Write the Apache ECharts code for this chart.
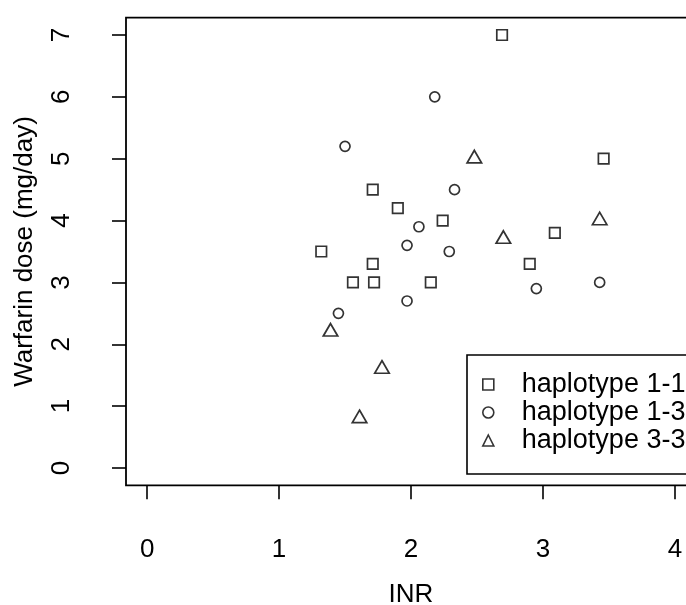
<!DOCTYPE html>
<html>
<head>
<meta charset="utf-8">
<script src="https://cdn.jsdelivr.net/npm/echarts@6/dist/echarts.min.js"></script>
<style>
  html, body { margin: 0; padding: 0; background: #fff; }
  #chart { width: 686px; height: 605px; }
</style>
</head>
<body>
<div id="chart"></div>
<script>
// ---- data ----
const seriesNames = ['haplotype 1-1', 'haplotype 1-3', 'haplotype 3-3'];
const hap11 = [[2.69, 7.0], [3.46, 5.0], [1.71, 4.5], [1.90, 4.2], [2.24, 4.0], [3.09, 3.8],
               [1.32, 3.5], [1.71, 3.3], [2.90, 3.3], [1.56, 3.0], [1.72, 3.0], [2.15, 3.0]];
const hap13 = [[2.18, 6.0], [1.50, 5.2], [2.33, 4.5], [2.06, 3.9], [1.97, 3.6], [2.29, 3.5],
               [2.95, 2.9], [3.43, 3.0], [1.97, 2.7], [1.45, 2.5]];
const hap33 = [[2.48, 5.0], [3.43, 4.0], [2.70, 3.7], [1.39, 2.2], [1.78, 1.6], [1.61, 0.8]];
const xTicks = [0, 1, 2, 3, 4];
const yTicks = [0, 1, 2, 3, 4, 5, 6, 7];
const xTitle = 'INR';
const yTitle = 'Warfarin dose (mg/day)';

// ---- chart ----
const FONT = '"Liberation Sans", Arial, sans-serif';
const hollow = { color: 'rgba(0,0,0,0)', borderColor: '#000', borderWidth: 1.7 };
const chart = echarts.init(document.getElementById('chart'), null, { renderer: 'canvas' });

chart.setOption({
  animation: false,
  backgroundColor: '#fff',
  textStyle: { fontFamily: FONT, color: '#000' },
  grid: {
    left: 126, top: 17.7, width: 570, height: 467.6,
    outerBoundsMode: 'none',
    show: true, borderColor: '#000', borderWidth: 1.8, backgroundColor: 'rgba(0,0,0,0)'
  },
  xAxis: {
    type: 'value', min: -0.16, max: 4.16,
    splitLine: { show: false },
    axisLine: { show: false, onZero: false },
    axisTick: { show: true, customValues: xTicks, length: 14, inside: false,
                lineStyle: { color: '#000', width: 1.6 } },
    axisLabel: { customValues: xTicks, fontSize: 26, fontFamily: FONT, color: '#000', margin: 52 },
    name: xTitle, nameLocation: 'middle', nameGap: 97,
    nameTextStyle: { fontSize: 26, fontFamily: FONT, color: '#000' }
  },
  yAxis: {
    type: 'value', min: -0.28, max: 7.28,
    splitLine: { show: false },
    axisLine: { show: false, onZero: false },
    axisTick: { show: true, customValues: yTicks, length: 14, inside: false,
                lineStyle: { color: '#000', width: 1.6 } },
    axisLabel: { customValues: yTicks, fontSize: 26, fontFamily: FONT, color: '#000',
                 rotate: 90, margin: 51 },
    name: yTitle, nameLocation: 'middle', nameGap: 88, nameRotate: 90,
    nameTextStyle: { fontSize: 26, fontFamily: FONT, color: '#000' }
  },
  legend: {
    orient: 'vertical', left: 467, top: 355,
    backgroundColor: '#fff',
    borderColor: '#000', borderWidth: 1.6, borderRadius: 0,
    padding: [16, 40, 20, 15],
    itemWidth: 11, itemHeight: 11, itemGap: 1,
    textStyle: { fontSize: 27, fontFamily: FONT, color: '#000', padding: [0, 0, 0, 23] },
    selectedMode: false,
    data: [
      { name: seriesNames[0], icon: 'rect', itemStyle: { color: '#fff', borderColor: '#000', borderWidth: 1.6 } },
      { name: seriesNames[1], icon: 'circle', itemStyle: { color: '#fff', borderColor: '#000', borderWidth: 1.6 } },
      { name: seriesNames[2], icon: 'triangle', itemStyle: { color: '#fff', borderColor: '#000', borderWidth: 1.6 } }
    ]
  },
  series: [
    { name: seriesNames[0], type: 'scatter', data: hap11, symbol: 'rect', symbolSize: 10.5,
      itemStyle: hollow, clip: false, z: 3 },
    { name: seriesNames[1], type: 'scatter', data: hap13, symbol: 'circle', symbolSize: 10,
      itemStyle: hollow, clip: false, z: 3 },
    { name: seriesNames[2], type: 'scatter', data: hap33, symbol: 'triangle', symbolSize: [14.5, 12.5],
      symbolOffset: [0, '-16.7%'], itemStyle: hollow, clip: false, z: 3 }
  ]
});
</script>
</body>
</html>
